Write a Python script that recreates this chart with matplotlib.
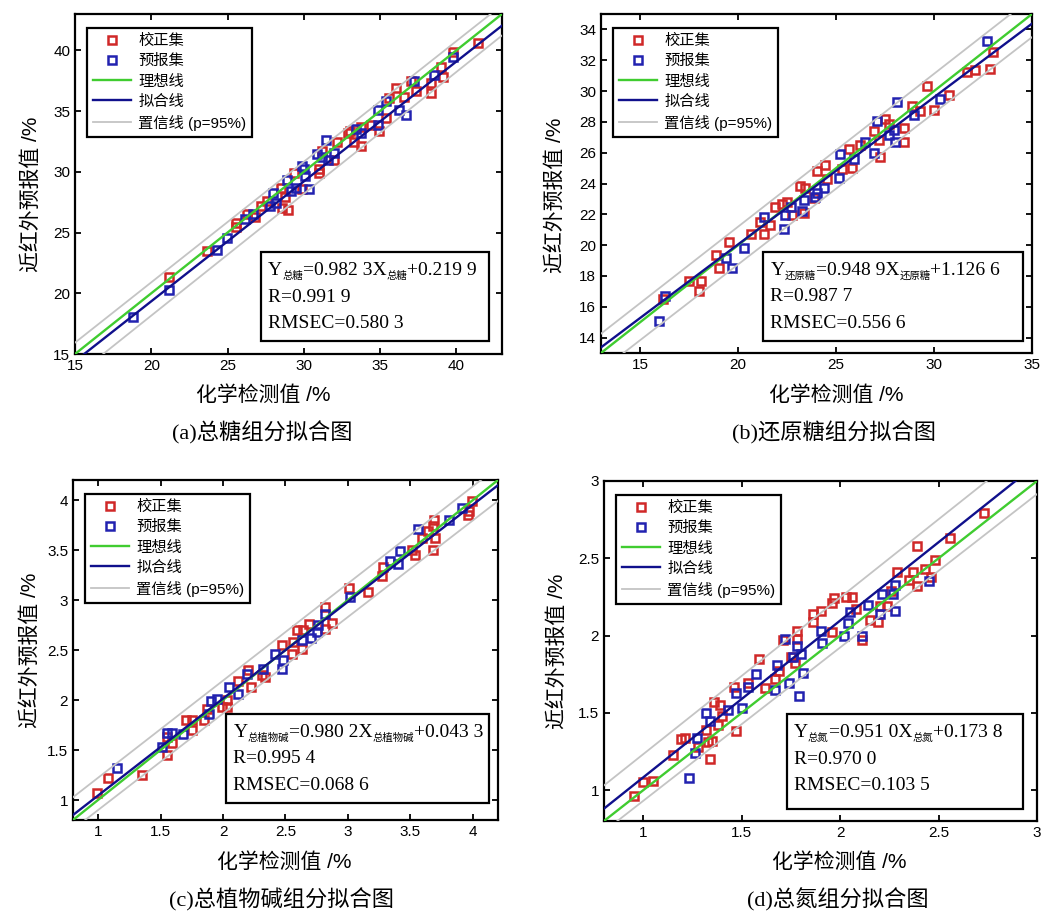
import numpy as np
import matplotlib
matplotlib.use('Agg')
import matplotlib.pyplot as plt
from matplotlib.patches import Rectangle
from matplotlib.ticker import FuncFormatter

CJK = 'Noto Sans CJK SC'
W, H = 1053, 924

# ---------------- (a) 总糖 ----------------
a_cal_x = [21.14, 23.66, 25.53, 25.53, 26.3, 26.8, 27.17, 27.6, 28.6, 28.97, 28.8, 28.5, 29.36, 29.9,
           31.0, 31.0, 31.2, 32.0, 32.2, 32.9, 33.3, 33.75, 33.75, 34.4, 34.96, 35.4, 35.6, 36.05,
           36.6, 37.04, 37.37, 38.35, 38.35, 39.1, 39.0, 39.8, 41.4, 33.0]
a_cal_y = [21.34, 23.48, 25.81, 25.5, 26.5, 26.3, 27.18, 27.6, 27.0, 26.85, 27.9, 28.7, 29.9, 28.55,
           29.9, 30.2, 31.7, 31.0, 32.5, 33.2, 32.5, 32.1, 33.7, 33.9, 33.35, 34.45, 36.1, 36.9,
           36.2, 37.47, 36.64, 36.5, 37.3, 37.8, 38.6, 39.9, 40.6, 33.4]
a_pre_x = [18.8, 21.14, 24.28, 24.98, 26.18, 26.7, 27.8, 28.0, 28.15, 28.9, 29.15, 29.5, 29.9, 30.1,
           30.35, 30.9, 31.45, 31.56, 32.0, 33.4, 33.75, 34.85, 34.85, 35.4, 36.27, 36.7, 37.26,
           38.57, 39.8, 31.2, 30.0]
a_pre_y = [18.05, 20.24, 23.6, 24.57, 26.08, 26.5, 27.2, 28.3, 27.45, 29.3, 28.4, 28.7, 30.5, 29.65,
           28.55, 31.43, 32.6, 31.0, 31.57, 33.5, 33.2, 33.85, 35.1, 35.8, 35.1, 34.7, 37.47,
           38.0, 39.5, 31.2, 30.2]
a_lim = (15, 43)
a_xticks = [15, 20, 25, 30, 35, 40]
a_yticks = [15, 20, 25, 30, 35, 40]
a_fit = (0.987, -0.4)
a_upper = (0.993, 1.04)
a_lower = (1.003, -1.9)
a_name = '总糖'
a_eq = ('=0.982 3X', '+0.219 9')
a_r = 'R=0.991 9'
a_rmsec = 'RMSEC=0.580 3'
a_caption = '(a)总糖组分拟合图'

# ---------------- (b) 还原糖 ----------------
b_cal_x = [16.16, 17.47, 17.98, 18.11, 18.88, 19.0, 19.54, 20.67, 21.3, 21.13, 21.64, 21.89, 22.23,
           22.49, 22.74, 23.17, 23.34, 23.43, 23.85, 24.02, 24.45, 24.53, 25.3, 25.64, 25.8, 26.23,
           26.91, 27.17, 27.26, 27.5, 27.68, 28.45, 28.45, 28.87, 29.3, 29.64, 30.01, 30.74, 31.68,
           32.1, 32.84, 33.0]
b_cal_y = [16.48, 17.69, 17.02, 17.67, 19.36, 18.49, 20.22, 20.72, 20.7, 21.52, 21.3, 22.49, 22.7,
           22.8, 21.95, 23.83, 22.06, 23.68, 23.07, 24.8, 25.19, 24.32, 24.97, 26.27, 25.0, 26.48,
           27.39, 26.8, 25.73, 28.2, 27.89, 27.63, 26.7, 29.0, 28.69, 30.3, 28.8, 29.77, 31.24,
           31.39, 31.45, 32.53]
b_pre_x = [15.97, 16.28, 19.39, 19.7, 20.28, 21.33, 22.32, 22.4, 22.7, 23.26, 23.34, 23.94, 24.36,
           24.0, 25.13, 25.21, 25.89, 26.49, 26.91, 27.09, 27.68, 27.94, 28.02, 28.1, 28.96, 30.29,
           32.7]
b_pre_y = [15.08, 16.72, 19.18, 18.54, 19.79, 21.84, 21.04, 21.95, 22.5, 22.23, 22.96, 23.14, 23.68,
           23.4, 24.37, 25.9, 25.62, 26.7, 25.99, 28.06, 27.13, 27.5, 26.7, 29.29, 28.43, 29.46,
           33.24]
b_lim = (13, 35)
b_xticks = [15, 20, 25, 30, 35]
b_yticks = [14, 16, 18, 20, 22, 24, 26, 28, 30, 32, 34]
b_fit = (0.955, 0.95)
b_upper = (0.992, 1.36)
b_lower = (0.983, -0.91)
b_name = '还原糖'
b_eq = ('=0.948 9X', '+1.126 6')
b_r = 'R=0.987 7'
b_rmsec = 'RMSEC=0.556 6'
b_caption = '(b)还原糖组分拟合图'

# ---------------- (c) 总植物碱 ----------------
c_cal_x = [0.99, 1.08, 1.35, 1.55, 1.55, 1.59, 1.70, 1.75, 1.75, 1.85, 1.87, 1.99, 2.03, 2.03, 2.12,
           2.20, 2.22, 2.31, 2.34, 2.47, 2.55, 2.56, 2.59, 2.63, 2.64, 2.69, 2.82, 2.82, 2.87, 3.01,
           3.16, 3.27, 3.28, 3.51, 3.54, 3.59, 3.64, 3.68, 3.69, 3.70, 3.68, 3.96, 3.97, 3.99]
c_cal_y = [1.07, 1.22, 1.25, 1.45, 1.63, 1.57, 1.80, 1.70, 1.80, 1.80, 1.91, 1.93, 1.93, 2.00, 2.19,
           2.30, 2.13, 2.25, 2.23, 2.55, 2.46, 2.58, 2.70, 2.51, 2.70, 2.76, 2.71, 2.93, 2.77, 3.12,
           3.08, 3.24, 3.33, 3.50, 3.45, 3.62, 3.69, 3.50, 3.80, 3.62, 3.74, 3.85, 3.89, 3.99]
c_pre_x = [1.15, 1.51, 1.55, 1.59, 1.68, 1.89, 1.90, 1.95, 2.05, 2.12, 2.19, 2.32, 2.42, 2.47, 2.48,
           2.63, 2.70, 2.75, 2.76, 2.82, 3.02, 3.34, 3.40, 3.42, 3.56, 3.81, 3.91]
c_pre_y = [1.32, 1.53, 1.67, 1.67, 1.66, 1.86, 1.99, 2.01, 2.13, 2.06, 2.26, 2.31, 2.46, 2.31, 2.40,
           2.60, 2.62, 2.68, 2.75, 2.86, 3.03, 3.39, 3.36, 3.49, 3.71, 3.80, 3.92]
c_lim = (0.8, 4.2)
c_xticks = [1, 1.5, 2, 2.5, 3, 3.5, 4]
c_yticks = [1, 1.5, 2, 2.5, 3, 3.5, 4]
c_fit = (0.97, 0.074)
c_upper = (0.972, 0.25)
c_lower = (0.966, -0.067)
c_name = '总植物碱'
c_eq = ('=0.980 2X', '+0.043 3')
c_r = 'R=0.995 4'
c_rmsec = 'RMSEC=0.068 6'
c_caption = '(c)总植物碱组分拟合图'

# ---------------- (d) 总氮 ----------------
d_cal_x = [0.95, 1.0, 1.05, 1.15, 1.19, 1.21, 1.28, 1.33, 1.34, 1.35, 1.32, 1.36, 1.38, 1.39, 1.40,
           1.46, 1.47, 1.53, 1.59, 1.62, 1.67, 1.69, 1.71, 1.75, 1.77, 1.78, 1.78, 1.86, 1.86, 1.90,
           1.96, 1.97, 1.96, 2.03, 2.06, 2.08, 2.11, 2.15, 2.19, 2.20, 2.24, 2.26, 2.29, 2.35, 2.37,
           2.39, 2.39, 2.43, 2.46, 2.48, 2.56, 2.73]
d_cal_y = [0.96, 1.05, 1.06, 1.23, 1.33, 1.34, 1.28, 1.31, 1.20, 1.32, 1.39, 1.57, 1.42, 1.55, 1.48,
           1.67, 1.38, 1.69, 1.85, 1.66, 1.72, 1.77, 1.97, 1.86, 1.82, 2.03, 1.98, 2.14, 2.09, 2.16,
           2.21, 2.24, 2.02, 2.25, 2.25, 2.17, 1.97, 2.10, 2.09, 2.19, 2.19, 2.29, 2.41, 2.36, 2.41,
           2.32, 2.58, 2.43, 2.38, 2.49, 2.63, 2.79]
d_pre_x = [1.23, 1.26, 1.27, 1.32, 1.34, 1.43, 1.47, 1.50, 1.53, 1.57, 1.67, 1.68, 1.72, 1.74, 1.76,
           1.79, 1.78, 1.80, 1.81, 1.90, 1.91, 2.02, 2.04, 2.05, 2.11, 2.14, 2.20, 2.21, 2.27, 2.28,
           2.28, 2.45]
d_pre_y = [1.08, 1.24, 1.34, 1.50, 1.45, 1.52, 1.63, 1.53, 1.67, 1.75, 1.65, 1.81, 1.98, 1.69, 1.86,
           1.61, 1.93, 1.88, 1.76, 2.03, 1.95, 2.00, 2.08, 2.15, 2.00, 2.20, 2.14, 2.27, 2.27, 2.33,
           2.16, 2.35]
d_lim = (0.8, 3.0)
d_xticks = [1, 1.5, 2, 2.5, 3]
d_yticks = [1, 1.5, 2, 2.5, 3]
d_fit = (1.014, 0.069)
d_upper = (1.013, 0.22)
d_lower = (0.992, -0.061)
d_name = '总氮'
d_eq = ('=0.951 0X', '+0.173 8')
d_r = 'R=0.970 0'
d_rmsec = 'RMSEC=0.103 5'
d_caption = '(d)总氮组分拟合图'

RED = '#d02828'
BLUE = '#2222b0'
GREEN = '#40cc30'
NAVY = '#10108c'
GRAY = '#c4c4c4'

fig = plt.figure(figsize=(W / 100, H / 100), dpi=100)
fig.patch.set_facecolor('white')
renderer = fig.canvas.get_renderer()


def rich_line(x, y, parts):
    # x, y in display pixels (origin bottom-left); 1 marks a subscript piece
    px = x
    for s, sub in parts:
        if sub:
            t = fig.text(px / W, (y - 4) / H, s, fontsize=7.5, family=CJK, va='baseline', ha='left')
        else:
            t = fig.text(px / W, y / H, s, fontsize=14, family='Liberation Serif', va='baseline', ha='left')
        px = t.get_window_extent(renderer).x1


panels = [
    dict(pos=(75, 14, 502, 354), cx=a_cal_x, cy=a_cal_y, px=a_pre_x, py=a_pre_y, lim=a_lim,
         xt=a_xticks, yt=a_yticks, fit=a_fit, up=a_upper, lo=a_lower, name=a_name, eq=a_eq, r=a_r,
         rm=a_rmsec, cap=a_caption, box=(0.436, 0.038, 0.970, 0.30),
         xl=(263, 395), yl=(31, 194), cp=(262, 433)),
    dict(pos=(601, 14, 1032, 353), cx=b_cal_x, cy=b_cal_y, px=b_pre_x, py=b_pre_y, lim=b_lim,
         xt=b_xticks, yt=b_yticks, fit=b_fit, up=b_upper, lo=b_lower, name=b_name, eq=b_eq, r=b_r,
         rm=b_rmsec, cap=b_caption, box=(0.377, 0.035, 0.979, 0.298),
         xl=(836, 395), yl=(555, 195), cp=(834, 433)),
    dict(pos=(73, 480, 498, 820), cx=c_cal_x, cy=c_cal_y, px=c_pre_x, py=c_pre_y, lim=c_lim,
         xt=c_xticks, yt=c_yticks, fit=c_fit, up=c_upper, lo=c_lower, name=c_name, eq=c_eq, r=c_r,
         rm=c_rmsec, cap=c_caption, box=(0.361, 0.051, 0.978, 0.312),
         xl=(284, 862), yl=(30, 650), cp=(282, 900)),
    dict(pos=(604, 481, 1037, 821), cx=d_cal_x, cy=d_cal_y, px=d_pre_x, py=d_pre_y, lim=d_lim,
         xt=d_xticks, yt=d_yticks, fit=d_fit, up=d_upper, lo=d_lower, name=d_name, eq=d_eq, r=d_r,
         rm=d_rmsec, cap=d_caption, box=(0.422, 0.034, 0.968, 0.314),
         xl=(839, 862), yl=(557, 651), cp=(838, 900)),
]

fmt = FuncFormatter(lambda v, p: f'{v:g}')

for p in panels:
    x0, y0, x1, y1 = p['pos']
    ax = fig.add_axes([x0 / W, 1 - y1 / H, (x1 - x0) / W, (y1 - y0) / H])
    lo_, hi_ = p['lim']
    xs = np.array([lo_, hi_])

    h_cal, = ax.plot(p['cx'], p['cy'], ls='none', marker='s', ms=6, mfc='none', mec=RED, mew=1.8, zorder=2)
    h_pre, = ax.plot(p['px'], p['py'], ls='none', marker='s', ms=6, mfc='none', mec=BLUE, mew=1.8, zorder=2)
    h_conf, = ax.plot(xs, p['up'][0] * xs + p['up'][1], color=GRAY, lw=1.3, zorder=3)
    ax.plot(xs, p['lo'][0] * xs + p['lo'][1], color=GRAY, lw=1.3, zorder=3)
    h_ideal, = ax.plot(xs, xs, color=GREEN, lw=1.7, zorder=4)
    h_fit, = ax.plot(xs, p['fit'][0] * xs + p['fit'][1], color=NAVY, lw=1.7, zorder=4)

    ax.set_xlim(p['lim'])
    ax.set_ylim(p['lim'])
    ax.set_xticks(p['xt'])
    ax.set_yticks(p['yt'])
    ax.xaxis.set_major_formatter(fmt)
    ax.yaxis.set_major_formatter(fmt)
    ax.tick_params(direction='in', top=True, right=True, length=4, width=1.3,
                   labelsize=11)
    for lab in ax.get_xticklabels() + ax.get_yticklabels():
        lab.set_family('Liberation Sans')
    for s in ax.spines.values():
        s.set_linewidth(1.6)

    leg = ax.legend([h_cal, h_pre, h_ideal, h_fit, h_conf],
                    ['校正集', '预报集', '理想线', '拟合线', '置信线 (p=95%)'],
                    loc='upper left', bbox_to_anchor=(12 / (x1 - x0), 1 - 14 / (y1 - y0)),
                    borderaxespad=0, numpoints=1, handlelength=2.5, handletextpad=0.45,
                    labelspacing=0.4, borderpad=0.4, fancybox=False, framealpha=1,
                    prop={'family': ['Liberation Sans', CJK], 'size': 11})
    leg.get_frame().set_edgecolor('black')
    leg.get_frame().set_linewidth(1.6)
    leg.set_zorder(6)

    bx0, by0, bx1, by1 = p['box']
    ax.add_patch(Rectangle((bx0, by0), bx1 - bx0, by1 - by0, transform=ax.transAxes,
                           facecolor='white', edgecolor='black', lw=1.6, zorder=5))
    tl = ax.transAxes.transform((bx0, by1))
    tx = tl[0] + 7
    ty = tl[1] - 23
    n = p['name']
    rich_line(tx, ty, [('Y', 0), (n, 1), (p['eq'][0], 0), (n, 1), (p['eq'][1], 0)])
    rich_line(tx, ty - 26.5, [(p['r'], 0)])
    rich_line(tx, ty - 53, [(p['rm'], 0)])

    fig.text(p['xl'][0] / W, 1 - p['xl'][1] / H, '化学检测值 /%', fontsize=15,
             family=['Liberation Sans', CJK], ha='center', va='center')
    fig.text(p['yl'][0] / W, 1 - p['yl'][1] / H, '近红外预报值 /%', fontsize=15,
             family=['Liberation Sans', CJK], ha='center', va='center', rotation=90)
    fig.text(p['cp'][0] / W, 1 - p['cp'][1] / H, p['cap'], fontsize=16,
             family=['Liberation Serif', CJK], ha='center', va='center')

fig.savefig('out.png', dpi=100, facecolor='white')
